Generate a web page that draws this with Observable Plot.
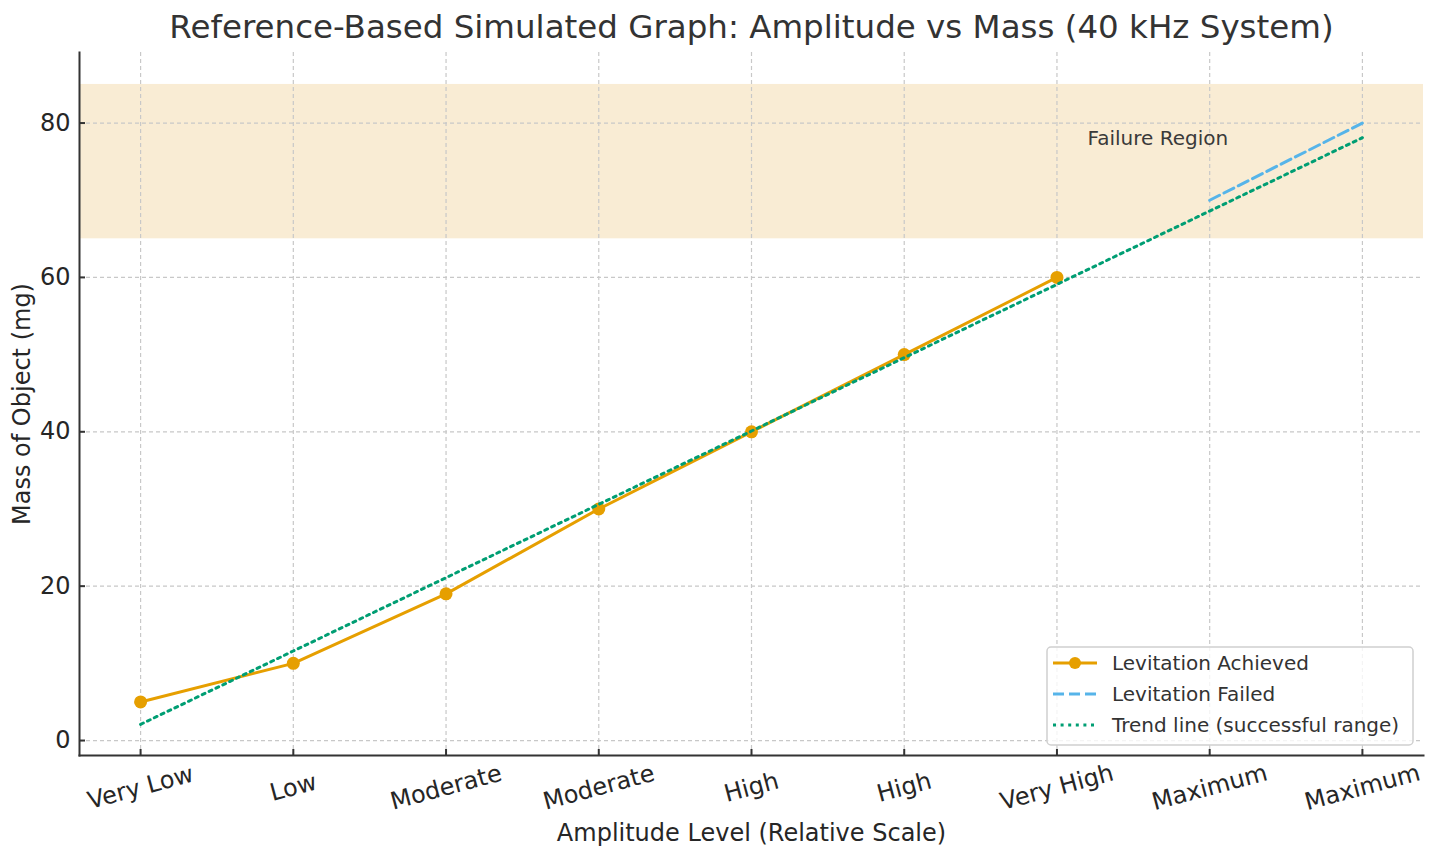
<!DOCTYPE html>
<html>
<head>
<meta charset="utf-8">
<script src="https://cdn.jsdelivr.net/npm/d3@7"></script>
<script src="https://cdn.jsdelivr.net/npm/@observablehq/plot@0.6"></script>
<style>
  html, body { margin: 0; padding: 0; background: #fff; }
  #chart svg { display: block; }
</style>
</head>
<body>
<div id="chart"></div>
<script>
// ---- data ----
const xPositions = [0, 1, 2, 3, 4, 5, 6, 7, 8];
const xLabels = ["Very Low", "Low", "Moderate", "Moderate", "High", "High", "Very High", "Maximum", "Maximum"];
const achievedX = [0, 1, 2, 3, 4, 5, 6];
const achievedMass = [5, 10, 19, 30, 40, 50, 60];
const failedX = [7, 8];
const failedMass = [70, 80];
const trendX = [0, 1, 2, 3, 4, 5, 6, 7, 8];
const trendMass = [2.1, 11.6, 21.1, 30.6, 40.1, 49.6, 59.1, 68.6, 78.1];
const failureRegion = [65, 85];
const yTicks = [0, 20, 40, 60, 80];
const xDomain = [-0.4, 8.4];
const yDomain = [-1.94, 89.14];

const title = "Reference-Based Simulated Graph: Amplitude vs Mass (40 kHz System)";
const xTitle = "Amplitude Level (Relative Scale)";
const yTitle = "Mass of Object (mg)";
const failureLabel = "Failure Region";
const failureLabelPos = [6.2, 78];
const legendItems = ["Levitation Achieved", "Levitation Failed", "Trend line (successful range)"];

const achieved = achievedX.map((x, i) => ({x, mass: achievedMass[i]}));
const failed = failedX.map((x, i) => ({x, mass: failedMass[i]}));
const trend = trendX.map((x, i) => ({x, mass: trendMass[i]}));

const ORANGE = "#E69F00", BLUE = "#56B4E9", GREEN = "#009E73";
const TXT = "#262626";
const FONT = "DejaVu Sans, sans-serif";

const plot = Plot.plot({
  width: 1437,
  height: 851,
  marginLeft: 79,
  marginRight: 14,
  marginTop: 52,
  marginBottom: 96,
  style: {fontFamily: FONT, background: "#fff", color: TXT},
  x: {type: "linear", domain: xDomain},
  y: {type: "linear", domain: yDomain},
  marks: [
    Plot.rectY([{y1: failureRegion[0], y2: failureRegion[1]}], {y1: "y1", y2: "y2", fill: "#f9ecd4"}),
    Plot.gridX(xPositions, {stroke: "#c8c8c8", strokeOpacity: 1, strokeWidth: 1.2, strokeDasharray: "4,3"}),
    Plot.gridY(yTicks, {stroke: "#c8c8c8", strokeOpacity: 1, strokeWidth: 1.2, strokeDasharray: "4,3"}),
    Plot.frame({anchor: "left", stroke: "#333", strokeWidth: 2}),
    Plot.frame({anchor: "bottom", stroke: "#333", strokeWidth: 2}),
    Plot.axisY({ticks: yTicks, tickSize: -6, tickPadding: 15, fontSize: 24, label: null, stroke: "#333", strokeWidth: 2, fill: TXT}),
    Plot.axisX({ticks: xPositions, tickSize: -6, tickFormat: () => "", label: null, stroke: "#333", strokeWidth: 2}),
    Plot.text(xPositions, {x: d => d, text: d => xLabels[d], frameAnchor: "bottom", lineAnchor: "middle", dy: 32, rotate: -15, fontSize: 24, fill: TXT, textAnchor: "middle"}),
    Plot.line(achieved, {x: "x", y: "mass", stroke: ORANGE, strokeWidth: 3}),
    Plot.dot(achieved, {x: "x", y: "mass", r: 6.5, fill: ORANGE, stroke: "none"}),
    Plot.line(failed, {x: "x", y: "mass", stroke: BLUE, strokeWidth: 3, strokeDasharray: "11,5"}),
    Plot.line(trend, {x: "x", y: "mass", stroke: GREEN, strokeWidth: 3, strokeDasharray: "3,4.6"}),
    Plot.text([failureLabel], {x: failureLabelPos[0], y: failureLabelPos[1], text: d => d, textAnchor: "start", lineAnchor: "middle", fontSize: 20, fill: "#3a3a3a"}),
    Plot.text([title], {frameAnchor: "top", lineAnchor: "middle", textAnchor: "middle", dy: -25, text: d => d, fontSize: 32.5, fill: "#333"}),
    Plot.text([xTitle], {frameAnchor: "bottom", lineAnchor: "middle", textAnchor: "middle", dy: 78, text: d => d, fontSize: 24, fill: TXT}),
    Plot.text([yTitle], {frameAnchor: "left", lineAnchor: "middle", textAnchor: "middle", dx: -57, rotate: -90, text: d => d, fontSize: 24, fill: TXT})
  ]
});

document.getElementById("chart").appendChild(plot);

// ---- legend (drawn into the same SVG) ----
const svg = d3.select(plot);
const lg = svg.append("g").attr("font-family", FONT).attr("font-size", 20).attr("text-anchor", "start");
const box = {x: 1047, y: 647, w: 366, h: 98};
lg.append("rect").attr("x", box.x).attr("y", box.y).attr("width", box.w).attr("height", box.h)
  .attr("rx", 4).attr("fill", "#fff").attr("fill-opacity", 0.8).attr("stroke", "#d0d0d0").attr("stroke-width", 1.5);
const styles = [
  {stroke: ORANGE, dash: null, marker: true},
  {stroke: BLUE, dash: "11,5", marker: false},
  {stroke: GREEN, dash: "3,4.6", marker: false}
];
legendItems.forEach((label, i) => {
  const cy = box.y + 16 + i * 31;
  const s = styles[i];
  lg.append("line").attr("x1", box.x + 6).attr("x2", box.x + 50).attr("y1", cy).attr("y2", cy)
    .attr("stroke", s.stroke).attr("stroke-width", 3).attr("stroke-dasharray", s.dash);
  if (s.marker) lg.append("circle").attr("cx", box.x + 28).attr("cy", cy).attr("r", 6).attr("fill", s.stroke);
  lg.append("text").attr("x", box.x + 65).attr("y", cy).attr("dy", "0.35em").attr("text-anchor", "start").attr("fill", "#333").text(label);
});
</script>
</body>
</html>
